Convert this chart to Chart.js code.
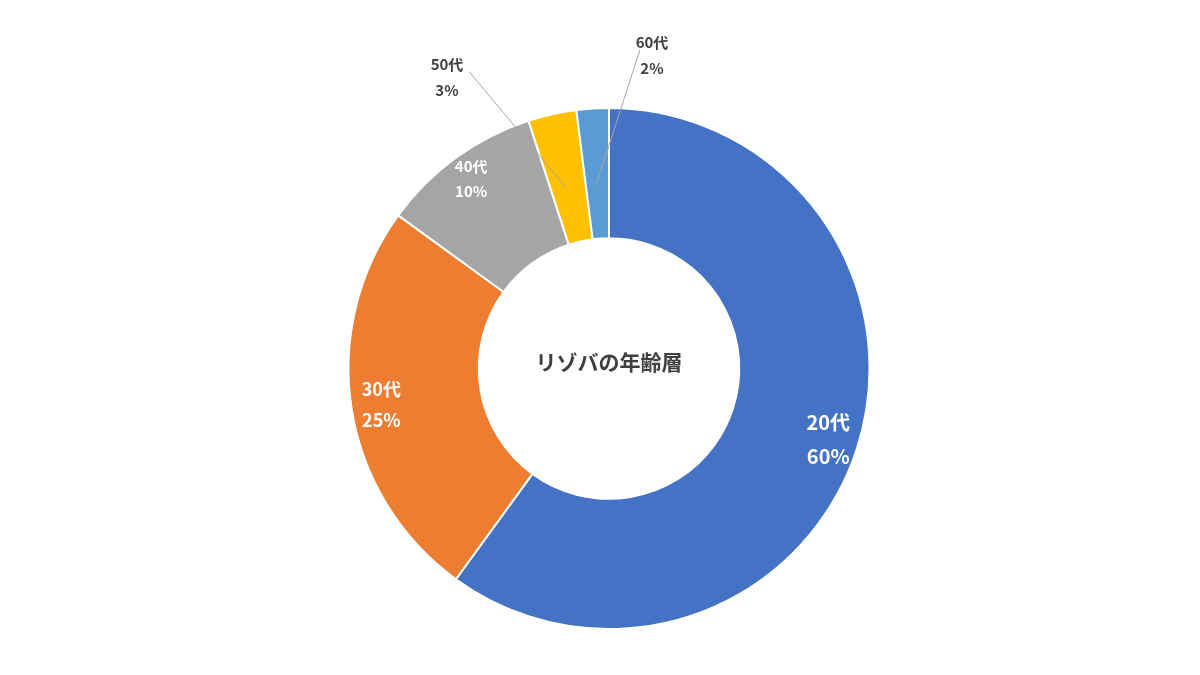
<!DOCTYPE html>
<html lang="ja">
<head>
<meta charset="UTF-8">
<title>リゾバの年齢層</title>
<script src="https://cdn.jsdelivr.net/npm/chart.js"></script>
<style>
  html, body { margin: 0; background: #fff; }
  #wrap { width: 1200px; height: 675px; }
</style>
</head>
<body>
<div id="wrap"><canvas id="chart"></canvas></div>
<script>
const ageLabels = ['20代', '30代', '40代', '50代', '60代'];
const ageShares = [60, 25, 10, 3, 2];
const sliceColors = ['#4472C4', '#ED7D31', '#A5A5A5', '#FFC000', '#5B9BD5'];
const centerTitle = 'リゾバの年齢層';

// label placement per slice (not data): inside labels use a radius factor, outside ones an offset from center
const labelStyle = [
  { inside: true, r: 0.77, size: 20 },
  { inside: true, r: 0.77, size: 18 },
  { inside: true, r: 0.80, size: 15 },
  { inside: false, dx: -162, dy: -291, size: 15 },
  { inside: false, dx: 43, dy: -313, size: 15 }
];

const font = '"Noto Sans CJK JP", "Noto Sans", sans-serif';

const labelPlugin = {
  id: 'sliceLabels',
  afterDatasetsDraw(chart) {
    const ctx = chart.ctx;
    const arcs = chart.getDatasetMeta(0).data;
    ctx.save();
    ctx.textAlign = 'center';
    ctx.textBaseline = 'middle';
    arcs.forEach((arc, i) => {
      const st = labelStyle[i];
      const mid = (arc.startAngle + arc.endAngle) / 2;
      let x, y;
      if (st.inside) {
        const r = arc.innerRadius + (arc.outerRadius - arc.innerRadius) * (st.r - 0.5) * 2 * 0.5 + (arc.outerRadius - arc.innerRadius) * 0.5;
        x = arc.x + Math.cos(mid) * r;
        y = arc.y + Math.sin(mid) * r;
        ctx.fillStyle = '#fff';
      } else {
        x = arc.x + st.dx;
        y = arc.y + st.dy;
        const rm = (arc.innerRadius + arc.outerRadius) / 2;
        ctx.strokeStyle = '#a6a6a6';
        ctx.lineWidth = 1;
        ctx.beginPath();
        ctx.moveTo(arc.x + Math.cos(mid) * rm, arc.y + Math.sin(mid) * rm + 10);
        ctx.lineTo(x + (st.dx < 0 ? 22 : -12), y - 6);
        ctx.stroke();
        ctx.fillStyle = '#404040';
      }
      ctx.font = 'bold ' + st.size + 'px ' + font;
      const gap = st.size * 0.85;
      ctx.fillText(ageLabels[i], x, y - gap);
      ctx.fillText(ageShares[i] + '%', x, y + gap);
    });
    ctx.fillStyle = '#404040';
    ctx.font = 'bold 21px ' + font;
    ctx.fillText(centerTitle, arcs[0].x, arcs[0].y - 6);
    ctx.restore();
  }
};

new Chart(document.getElementById('chart'), {
  type: 'doughnut',
  data: {
    labels: ageLabels,
    datasets: [{
      data: ageShares,
      backgroundColor: sliceColors,
      borderColor: '#fff',
      borderWidth: 2
    }]
  },
  options: {
    responsive: true,
    maintainAspectRatio: false,
    animation: false,
    cutout: '50%',
    layout: { padding: { top: 107, bottom: 45, left: 18 } },
    plugins: { legend: { display: false }, tooltip: { enabled: false } }
  },
  plugins: [labelPlugin]
});
</script>
</body>
</html>
